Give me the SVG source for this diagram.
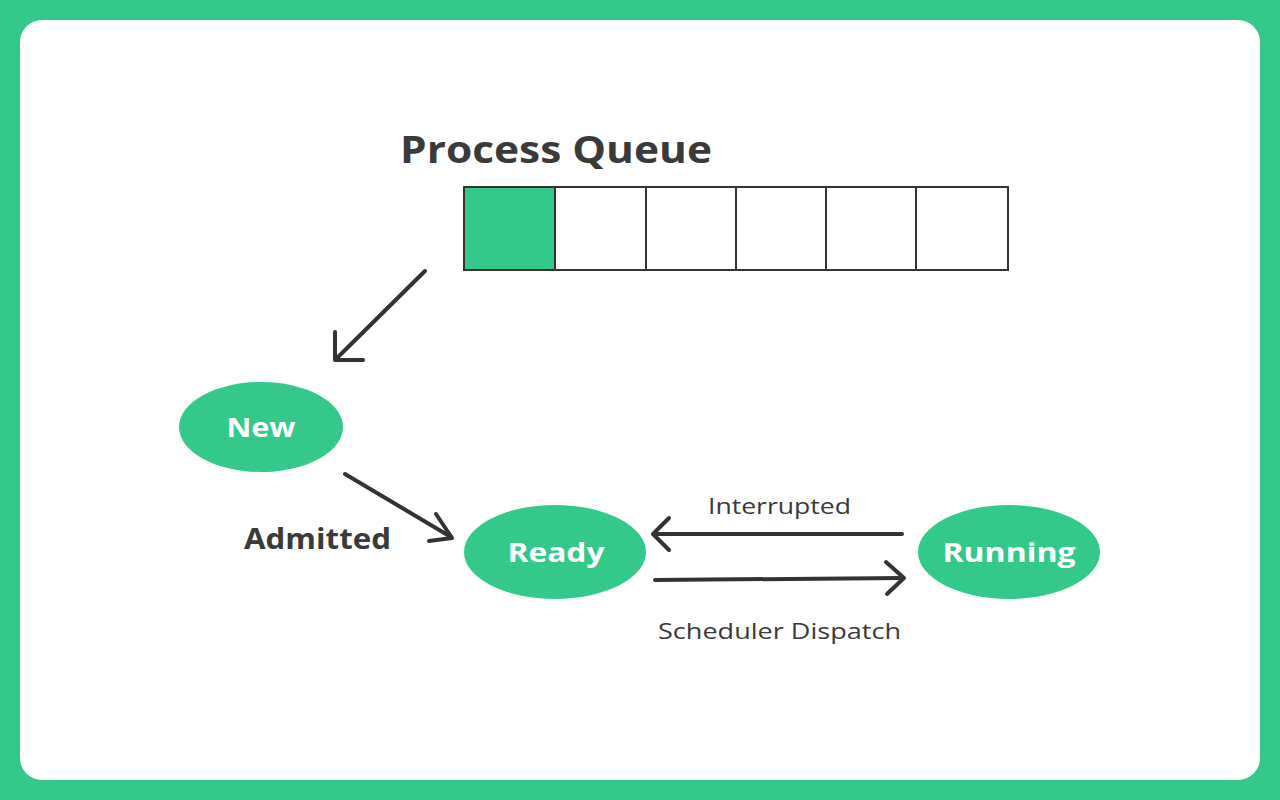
<svg xmlns="http://www.w3.org/2000/svg" width="1280" height="800" viewBox="0 0 1280 800">
<defs>
<style>
.node{fill:#34C98A;}
.lbl{fill:#fff;font-family:"Open Sans","Liberation Sans",sans-serif;font-weight:700;font-size:27px;text-anchor:middle;}
.cell{fill:#fff;stroke:#333;stroke-width:2;}
.conn{stroke:#333;stroke-width:4;fill:none;stroke-linecap:round;}
.head{stroke:#333;stroke-width:4;fill:none;stroke-linecap:round;stroke-linejoin:round;}
.t{fill:#3a3a3a;font-family:"Open Sans","Liberation Sans",sans-serif;}
</style>
</defs>
<rect x="0" y="0" width="1280" height="800" fill="#34C98A"/>
<rect x="20" y="20" width="1240" height="760" rx="22" fill="#fff"/>
<g id="title"><text class="t" x="400" y="163" font-size="37" font-weight="700" textLength="312" lengthAdjust="spacingAndGlyphs">Process Queue</text></g>
<g id="queue">
<rect class="cell" x="464" y="187" width="91" height="83" style="fill:#34C98A"/>
<rect class="cell" x="555" y="187" width="91" height="83"/>
<rect class="cell" x="646" y="187" width="90" height="83"/>
<rect class="cell" x="736" y="187" width="90" height="83"/>
<rect class="cell" x="826" y="187" width="90" height="83"/>
<rect class="cell" x="916" y="187" width="92" height="83"/>
</g>
<g id="connectors">
<line class="conn" x1="425" y1="271" x2="336" y2="359"/>
<polyline class="head" points="335,332 335,360 363,360"/>
<line class="conn" x1="345" y1="474" x2="451" y2="537"/>
<polyline class="head" points="436,514 452,538 429,541"/>
<line class="conn" x1="902" y1="534" x2="654" y2="534"/>
<polyline class="head" points="669,518 653,534 669,550"/>
<line class="conn" x1="655" y1="580" x2="903" y2="578"/>
<polyline class="head" points="886,562 904,578 887,594"/>
</g>
<g id="admitted-label"><text class="t" x="244" y="549" font-size="28" font-weight="700" textLength="147" lengthAdjust="spacingAndGlyphs">Admitted</text></g>
<g id="interrupted-label"><text class="t" x="708" y="514" font-size="22" textLength="143" lengthAdjust="spacingAndGlyphs">Interrupted</text></g>
<g id="dispatch-label"><text class="t" x="658" y="639" font-size="22" textLength="243" lengthAdjust="spacingAndGlyphs">Scheduler Dispatch</text></g>
<g id="new"><ellipse class="node" cx="261" cy="427" rx="82" ry="45"/><text class="lbl" x="261" y="437" textLength="69" lengthAdjust="spacingAndGlyphs">New</text></g>
<g id="ready"><ellipse class="node" cx="555" cy="552" rx="91" ry="47"/><text class="lbl" x="556" y="562" textLength="97" lengthAdjust="spacingAndGlyphs">Ready</text></g>
<g id="running"><ellipse class="node" cx="1009" cy="552" rx="91" ry="47"/><text class="lbl" x="1009" y="562" textLength="133" lengthAdjust="spacingAndGlyphs">Running</text></g>
</svg>
